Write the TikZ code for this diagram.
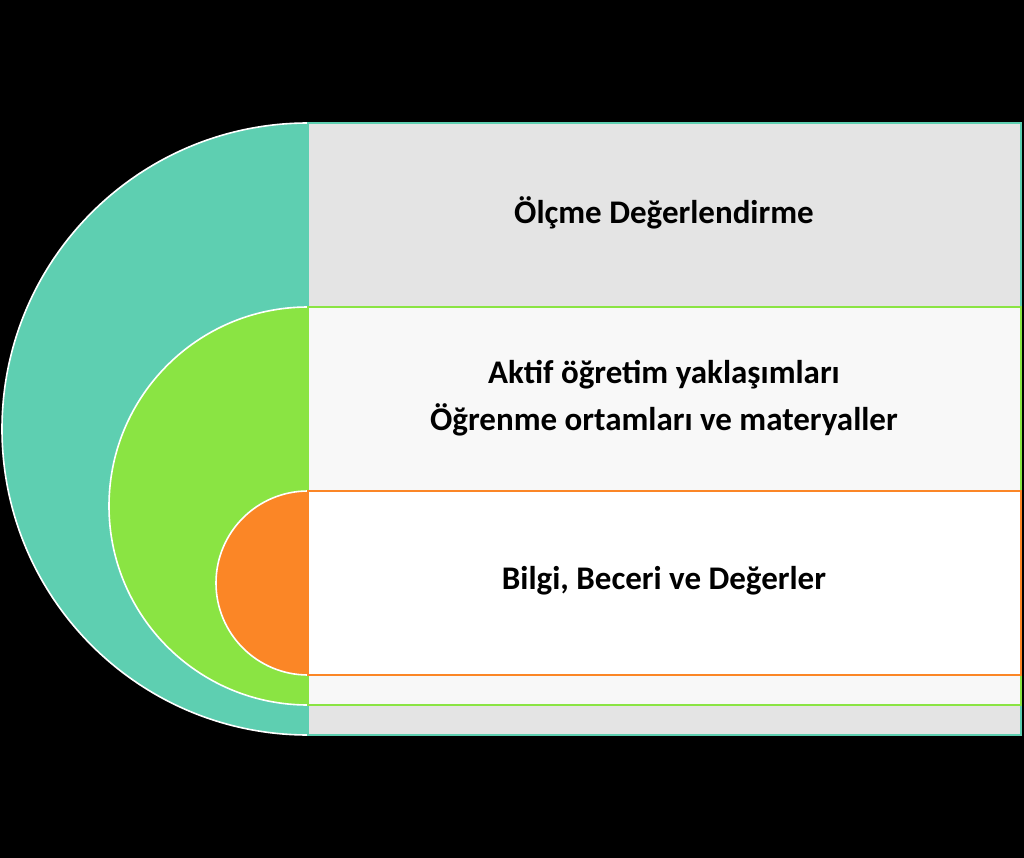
\documentclass[tikz,border=0pt]{standalone}
\usepackage{fontspec}
\setmainfont{Carlito}
\definecolor{teal1}{HTML}{5ECFB1}
\definecolor{green1}{HTML}{8AE443}
\definecolor{orange1}{HTML}{FB8626}
\definecolor{grey1}{HTML}{E4E4E4}
\definecolor{light1}{HTML}{F8F8F8}
\begin{document}
\begin{tikzpicture}[x=1pt,y=-1pt,
  half/.style={draw=white,line width=1.6pt},
  band/.style={line width=1.8pt},
  lbl/.style={font=\bfseries\fontsize{33}{47}\selectfont,text=black,align=center}]
\fill[black] (0,0) rectangle (1024,858);
\useasboundingbox (0,0) rectangle (1024,858);
% teal
\filldraw[half,fill=teal1] (308,123) arc[start angle=270,end angle=90,radius=306] -- cycle;
\filldraw[band,draw=teal1,fill=grey1] (308,123) rectangle (1021,735);
% green
\filldraw[half,fill=green1] (308,307) arc[start angle=270,end angle=90,radius=199] -- cycle;
\filldraw[band,draw=green1,fill=light1] (308,307) rectangle (1021,705);
% orange
\filldraw[half,fill=orange1] (308,491) arc[start angle=270,end angle=90,radius=92] -- cycle;
\filldraw[band,draw=orange1,fill=white] (308,491) rectangle (1021,675);
% texts
\node[lbl] (t1) at (664,213) {Ölçme Değerlendirme};
\node[lbl] (t2) at (664,398) {Aktif öğretim yaklaşımları\\Öğrenme ortamları ve materyaller};
\node[lbl] (t3) at (664,581) {Bilgi, Beceri ve Değerler};
\end{tikzpicture}
\end{document}
